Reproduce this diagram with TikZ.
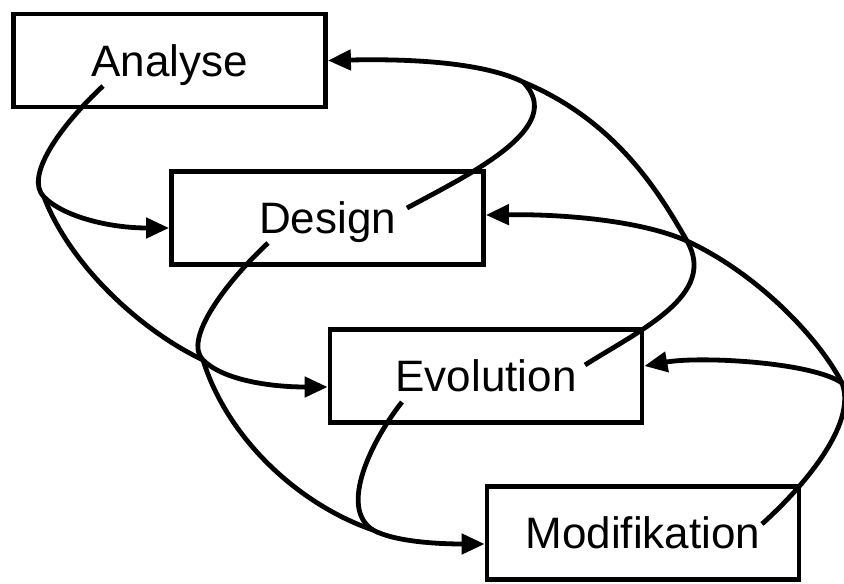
\documentclass[tikz,border=0pt]{standalone}
\usepackage{fontspec}
\setmainfont{Liberation Sans}
\usetikzlibrary{arrows.meta}

\begin{document}
\begin{tikzpicture}[x=1pt, y=-1pt,
    phase/.style={draw, line width=4.8pt, minimum width=312pt, minimum height=93pt,
      inner sep=0pt, text height=31pt, text depth=0pt, font=\fontsize{44}{52}\selectfont},
    link/.style={line width=4.8pt},
    flow/.style={link, -{Triangle[length=23pt,width=20pt]}}]

    \useasboundingbox (0,0) rectangle (844,584);

    % Define the four phases
    \node[phase] (A) at (169.5,60.5) {Analyse};
    \node[phase] (D) at (327.5,218) {Design};
    \node[phase] (E) at (486,376) {Evolution};
    \node[phase] (M) at (643,533) {Modifikation};

    % Start points of the curves, next to the labels
    \coordinate (a1) at (103,86);
    \coordinate (d1) at (268,243);
    \coordinate (e1) at (402,402);
    \coordinate (d2) at (407,208);
    \coordinate (e2) at (585,365);
    \coordinate (m2) at (762,524);

    % Branch points where the long curves meet
    \coordinate (ja) at (44,197);
    \coordinate (jd) at (203,360);
    \coordinate (je) at (373,530);
    \coordinate (kd) at (523,82);
    \coordinate (ke) at (687,241);
    \coordinate (km) at (842,383);

    % Forward curves on the left
    \draw[flow] (a1) .. controls (60,126) and (24,177) .. (ja)
        .. controls (64,217) and (110,228) .. ([yshift=-10pt]D.west);
    \draw[flow] (d1) .. controls (225,283) and (183,340) .. (jd)
        .. controls (223,380) and (270,387) .. ([yshift=-11pt]E.west);
    \draw[flow] (e1) .. controls (372,440) and (338,508) .. (je)
        .. controls (395,542) and (440,544) .. ([yshift=-11pt]M.west);
    \draw[link] (ja) .. controls (70,265) and (140,330) .. (jd);
    \draw[link] (jd) .. controls (228,440) and (300,505) .. (je);

    % Feedback curves on the right
    \draw[flow] (d2) .. controls (470,174) and (568,127) .. (kd)
        .. controls (495,68) and (440,58) .. (A.east);
    \draw[flow] (e2) .. controls (640,330) and (718,295) .. (ke)
        .. controls (640,220) and (560,214) .. ([yshift=3pt]D.east);
    \draw[flow] (m2) .. controls (800,490) and (858,425) .. (km)
        .. controls (812,362) and (700,356) .. ([yshift=10pt]E.east);
    \draw[link] (ke) .. controls (659,192) and (615,120) .. (kd);
    \draw[link] (km) .. controls (820,340) and (760,275) .. (ke);

\end{tikzpicture}
\end{document}
